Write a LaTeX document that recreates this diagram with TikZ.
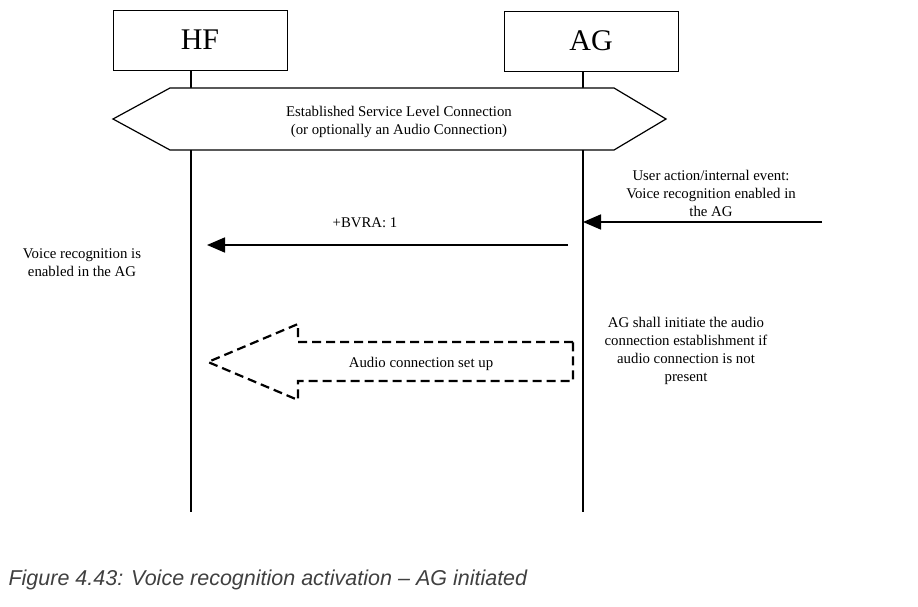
\documentclass[tikz,border=0pt]{standalone}
\usepackage{fontspec}
\setmainfont{Liberation Serif}
\setsansfont{Liberation Sans}
\usetikzlibrary{positioning,arrows.meta}

\begin{document}
\begin{tikzpicture}[x=1pt, y=-1pt, font=\fontsize{14.8}{18}\selectfont,
    entity/.style={draw, line width=0.9pt, minimum width=174pt, minimum height=60pt, font=\fontsize{30}{32}\selectfont},
    lifeline/.style={line width=1.5pt},
    msg/.style={-{Triangle[length=18pt,width=15pt]}, line width=1.8pt},
    blockarrow/.style={line width=2.2pt, dash pattern=on 9pt off 5pt}]

    \useasboundingbox (0,0) rectangle (918,607);

    \node[entity] (hf) at (200,40) {HF};
    \node[entity] (ag) at (591,41) {AG};

    \coordinate (hfend) at (191,512);
    \coordinate (agend) at (583,512);
    \draw[lifeline] (hfend |- hf.south) -- (hfend);
    \draw[lifeline] (agend |- ag.south) -- (agend);

    % service level connection
    \draw[line width=1.2pt, fill=white] (113,119) -- (170,88) -- (614,88) -- (666,119) -- (614,150) -- (170,150) -- cycle;
    \node[align=center] (slc) at (399,122) {Established Service Level Connection\\(or optionally an Audio Connection)};

    \node[align=center] (evtxt) at (711,193) {User action/internal event:\\Voice recognition enabled in\\the AG};
    \coordinate (ev) at (822,222);
    \draw[msg] (ev) -- (ev -| agend);

    \node (bvra) at (365,223) {+BVRA: 1};
    \coordinate (bvrafrom) at (568,245);
    \coordinate (bvrato) at (207,245);
    \draw[msg] (bvrafrom) -- (bvrato);

    \node[align=center] (hfnote) at (82,263) {Voice recognition is\\enabled in the AG};

    % audio connection
    \draw[blockarrow] (573,342) -- (298,342) -- (298,324) -- (208,362) -- (298,400) -- (298,381) -- (573,381) -- cycle;
    \node (audio) at (421,364) {Audio connection set up};
    \node[align=center] (agnote) at (686,351) {AG shall initiate the audio\\connection establishment if\\audio connection is not\\present};

    \node[anchor=base west, font=\sffamily\itshape\fontsize{21.5}{23}\selectfont, text=black!75] (caption) at (5,585)
        {Figure 4.43: Voice recognition activation – AG initiated};

\end{tikzpicture}
\end{document}
